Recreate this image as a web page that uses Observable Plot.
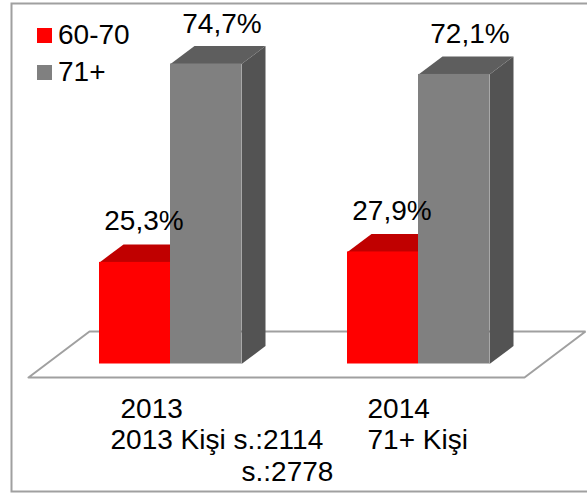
<!DOCTYPE html>
<html><head><meta charset="utf-8">
<script src="https://cdn.jsdelivr.net/npm/d3@7"></script>
<script src="https://cdn.jsdelivr.net/npm/@observablehq/plot@0.6"></script>
<style>
html,body{margin:0;padding:0;background:#fff;overflow:hidden}
#wrap{position:relative;width:587px;height:495px}
.leg{position:absolute;left:37px;display:flex;align-items:center;font:28px "Liberation Sans",sans-serif;color:#000;line-height:30px}
.leg i{display:block;width:15px;height:15px;margin-right:6px}
</style></head><body><div id="wrap"></div>
<script>
const years = ["2013", "2014"];
const series = ["60-70", "71+"];
const values6070 = [25.3, 27.9];
const values71 = [74.7, 72.1];
const valueLabels6070 = ["25,3%", "27,9%"];
const valueLabels71 = ["74,7%", "72,1%"];
const tickLines = ["2013", "2013 Kişi s.:2114", "s.:2778", "2014", "71+ Kişi"];
const frontColors = ["#ff0000", "#808080"];
const topColors = ["#c00000", "#5e5e5e"];
const sideColors = ["#a00000", "#535353"];

const W = 587, H = 495;
const xL = 170, xStep = 248, yB = 363.5, yT = 63.5, vMax = 74.7;
const xU = p => p / xStep;
const yU = p => p * vMax / (yB - yT);
const bw = xU(71), ddx = xU(24), ddy = yU(18);

function bars(vals, si){
  return vals.map((v,i)=>({i, v, x1: i + (si-1)*bw, x2: i + si*bw}));
}
const redBars = bars(values6070, 0), grayBars = bars(values71, 1);
function poly(points, id){ return points.map(([x,y])=>({x,y,id})); }
function topFace(b){ return poly([[b.x1,b.v],[b.x2,b.v],[b.x2+ddx,b.v+ddy],[b.x1+ddx,b.v+ddy],[b.x1,b.v]], "t"+b.x1); }
function sideFace(b){ return poly([[b.x2,0],[b.x2+ddx,ddy],[b.x2+ddx,b.v+ddy],[b.x2,b.v],[b.x2,0]], "s"+b.x1); }
const face = (fn, bs, color) => Plot.line(bs.flatMap(fn), {x:"x", y:"y", z:"id", fill:color, stroke:null, curve:"linear"});

const floorF = yU(-13.5), floorB = yU(32.5);
const floor = poly([
  [xU(28-xL), floorF],[xU(524-xL), floorF],[xU(585-xL), floorB],[xU(89-xL), floorB],[xU(28-xL), floorF]
], "floor");

const tickPos = [[120,398],[110,429],[241,461],[367,398],[367,429]];

const chart = Plot.plot({
  width: W, height: H, margin: 0,
  style: {background:"transparent", fontFamily:"'Liberation Sans',sans-serif"},
  x: {domain:[0,1], range:[xL, xL+xStep], axis:null},
  y: {domain:[0,vMax], range:[yB, yT], axis:null},
  marks: [
    Plot.frame({stroke:"#a0a0a0", strokeWidth:2, insetLeft:11, insetTop:3, insetBottom:4, insetRight:-5}),
    Plot.line(floor, {x:"x", y:"y", z:"id", fill:"#fff", stroke:"#a0a0a0", strokeWidth:2, curve:"linear", strokeLinejoin:"miter"}),
    face(topFace, redBars, topColors[0]),
    Plot.rect(redBars, {x1:"x1", x2:"x2", y1:0, y2:"v", fill:frontColors[0]}),
    face(sideFace, grayBars, sideColors[1]),
    face(topFace, grayBars, topColors[1]),
    Plot.rect(grayBars, {x1:"x1", x2:"x2", y1:0, y2:"v", fill:frontColors[1]}),
    Plot.text(redBars, {x:d=>d.i-bw/2, y:"v", text:(d,i)=>valueLabels6070[i], dx:9, dy:-41, fontSize:28, fill:"#000"}),
    Plot.text(grayBars, {x:d=>d.i+bw/2, y:"v", text:(d,i)=>valueLabels71[i], dx:16, dy:-40, fontSize:28, fill:"#000"}),
    ...tickLines.map((t,i)=>Plot.text([t], {frameAnchor:"top-left", dx:tickPos[i][0], dy:tickPos[i][1], text:d=>d, textAnchor:"start", lineAnchor:"top", fontSize:28, fill:"#000"}))
  ]
});
const wrap = document.getElementById("wrap");
wrap.appendChild(chart);
series.forEach((s,i)=>{
  const d = document.createElement("div");
  d.className="leg"; d.style.top=(20+i*37)+"px";
  d.innerHTML=`<i style="background:${frontColors[i]}"></i><span>${s}</span>`;
  wrap.appendChild(d);
});
</script></body></html>
